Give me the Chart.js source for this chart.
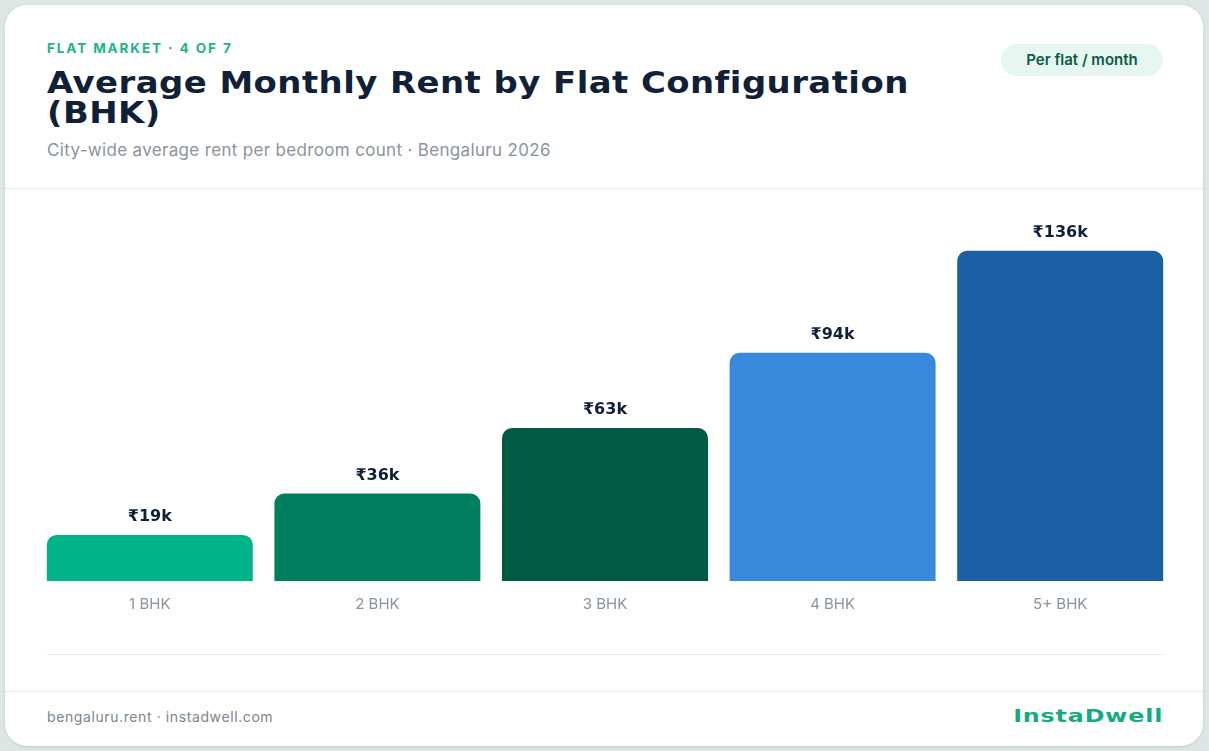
<!DOCTYPE html>
<html>
<head>
<meta charset="utf-8">
<script src="https://cdn.jsdelivr.net/npm/chart.js@4.4.1/dist/chart.umd.min.js"></script>
<style>
	html, body { margin: 0; padding: 0; }
	body { width: 1209px; height: 751px; background: #dde5e5; position: relative; overflow: hidden; font-family: Inter, "Noto Sans", sans-serif; }
	.card { position: absolute; left: 5px; top: 5px; width: 1198px; height: 741px; background: #fff; border-radius: 22px; box-shadow: 0 1px 3px rgba(0,0,0,0.12); }
	.eyebrow { position: absolute; left: 42px; top: 35px; font: 700 13.5px Inter, sans-serif; letter-spacing: 1.9px; color: #1db488; }
	.title { position: absolute; left: 42px; top: 63px; width: 900px; font: 700 30px "DejaVu Sans", sans-serif; line-height: 30px; color: #0f2037; letter-spacing: 0.4px; transform: scaleX(1.13); transform-origin: left top; }
	.subtitle { position: absolute; left: 42px; top: 135px; font: 400 17px Inter, sans-serif; letter-spacing: 0.33px; color: #8a949b; }
	.badge { position: absolute; left: 996px; top: 39px; width: 162px; height: 32px; border-radius: 16px; background: #e6f7f1; color: #0d5a45; font: 600 15px Inter, sans-serif; line-height: 32px; text-align: center; }
	.hr { position: absolute; height: 1px; background: #e2ecec; }
	.footer-l { position: absolute; left: 42px; top: 703px; font: 400 14px Inter, sans-serif; letter-spacing: 0.6px; color: #7b858c; }
	.footer-r { position: absolute; right: 40px; top: 701px; font: 700 17px "DejaVu Sans", sans-serif; letter-spacing: 0.6px; color: #13ab7f; transform: scaleX(1.4); transform-origin: right center; }
	#wrap { position: absolute; left: 36px; top: 212px; width: 1138px; height: 440px; }
</style>
</head>
<body>
<div class="card">
	<div class="eyebrow">FLAT MARKET · 4 OF 7</div>
	<div class="title">Average Monthly Rent by Flat Configuration<br>(BHK)</div>
	<div class="subtitle">City-wide average rent per bedroom count · Bengaluru 2026</div>
	<div class="badge">Per flat / month</div>
	<div class="hr" style="left:0; top:183px; width:1198px;"></div>
	<div class="hr" style="left:42px; top:649px; width:1116px;"></div>
	<div class="hr" style="left:0; top:686px; width:1198px;"></div>
	<div class="footer-l">bengaluru.rent · instadwell.com</div>
	<div class="footer-r">InstaDwell</div>
</div>
<div id="wrap"><canvas id="chart-bhk"></canvas></div>
<script>
const CATEGORIES = ["1 BHK", "2 BHK", "3 BHK", "4 BHK", "5+ BHK"];
const RENT_K = [19, 36, 63, 94, 136];
const VALUE_LABELS = ["₹19k", "₹36k", "₹63k", "₹94k", "₹136k"];
const BAR_COLORS = ["#00b48a", "#007f5f", "#005b44", "#3889dc", "#1b5fa4"];

// value labels above each bar
const valueLabels = {
	id: "valueLabels",
	afterDatasetsDraw(chart) {
		const ctx = chart.ctx;
		const meta = chart.getDatasetMeta(0);
		ctx.save();
		ctx.font = "700 16px 'DejaVu Sans', sans-serif";
		ctx.fillStyle = "#0f2037";
		ctx.textAlign = "center";
		ctx.textBaseline = "middle";
		meta.data.forEach((bar, i) => {
			ctx.fillText(VALUE_LABELS[i], bar.x, bar.y - 18);
		});
		ctx.restore();
	},
};

new Chart(document.getElementById("chart-bhk"), {
	type: "bar",
	data: {
		labels: CATEGORIES,
		datasets: [
			{
				data: RENT_K,
				backgroundColor: BAR_COLORS,
				borderWidth: 0,
				borderRadius: { topLeft: 10, topRight: 10, bottomLeft: 0, bottomRight: 0 },
				borderSkipped: false,
				barPercentage: 0.905,
				categoryPercentage: 1,
			},
		],
	},
	options: {
		responsive: true,
		maintainAspectRatio: false,
		animation: false,
		layout: { padding: { left: 0, right: 0, top: 0, bottom: 25 } },
		plugins: {
			legend: { display: false },
			tooltip: { enabled: false },
		},
		scales: {
			x: {
				grid: { display: false, drawTicks: false },
				border: { display: false },
				ticks: {
					color: "#8a949b",
					padding: 14,
					font: { family: "Inter", size: 15 },
				},
			},
			y: {
				display: false,
				min: 0,
				max: 152,
			},
		},
	},
	plugins: [valueLabels],
});
</script>
</body>
</html>
